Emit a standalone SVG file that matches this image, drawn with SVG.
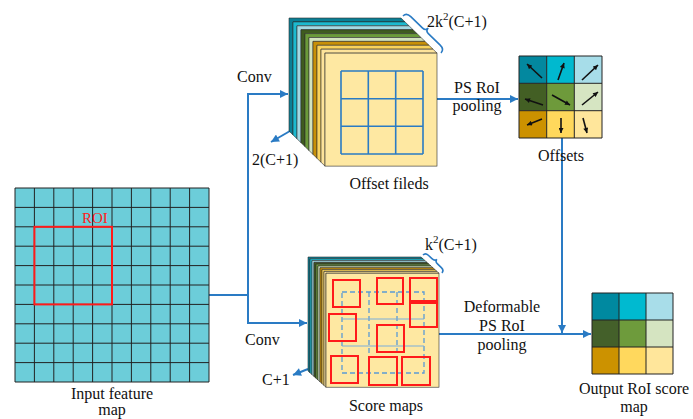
<svg xmlns="http://www.w3.org/2000/svg" xmlns:xlink="http://www.w3.org/1999/xlink" width="693" height="419" viewBox="0 0 693 419">
<style>
text{font-family:"Liberation Serif","DejaVu Serif","Noto Serif",serif;font-size:16px;fill:#111}
.conn{fill:none;stroke:#2a7bc4;stroke-width:2}
.lay{stroke:#2b2b2b;stroke-width:0.6}
.cell{stroke:#222;stroke-width:1}
.roi{fill:none;stroke:#ff1a1a;stroke-width:2}
.ar{stroke:#111;stroke-width:1.6;fill:none}
</style>
<defs>
<marker id="ah" viewBox="0 0 10 10" refX="10" refY="5" markerUnits="userSpaceOnUse" markerWidth="9" markerHeight="8" orient="auto"><path d="M0,0 L10,5 L0,10 z" fill="#2a7bc4"/></marker>
<marker id="ahk" viewBox="0 0 10 10" refX="10" refY="5" markerUnits="userSpaceOnUse" markerWidth="6" markerHeight="5" orient="auto"><path d="M0,0 L10,5 L0,10 z" fill="#111"/></marker>
<path id="LO" d="M0,0 h112 l4,3.9 h-112 v113 l-4,-3.9 z"/>
<path id="LS" d="M0,0 h113 l2,1.8 h-113 v114 l-2,-1.8 z"/>
</defs>

<g id="connectors">
<path class="conn" d="M209,295 H248"/>
<path class="conn" d="M248,323 V94 H288" marker-end="url(#ah)"/>
<path class="conn" d="M248,300 V323 H307" marker-end="url(#ah)"/>
<path class="conn" d="M437,99 H518" marker-end="url(#ah)"/>
<path class="conn" d="M562,138 V333" marker-end="url(#ah)"/>
<path class="conn" d="M439,334 H591" marker-end="url(#ah)"/>
<path class="conn" d="M290,131 L271,142" marker-end="url(#ah)"/>
<path class="conn" d="M308,369 L293,375" marker-end="url(#ah)"/>
</g>

<g id="input-feature-map">
<rect x="15" y="188" width="194" height="194" fill="#6ccdd9"/>
<path class="cell" d="M15,188V382M34.4,188V382M53.8,188V382M73.2,188V382M92.6,188V382M112,188V382M131.4,188V382M150.8,188V382M170.2,188V382M189.6,188V382M209,188V382M15,188H209M15,207.4H209M15,226.8H209M15,246.2H209M15,265.6H209M15,285H209M15,304.4H209M15,323.8H209M15,343.2H209M15,362.6H209M15,382H209"/>
<rect class="roi" x="34.4" y="226.8" width="77.6" height="77.6"/>
<text x="82" y="223" style="fill:#ff1a1a;font-size:15px">ROI</text>
<text x="112" y="399" text-anchor="middle">Input feature</text>
<text x="112" y="415" text-anchor="middle">map</text>
</g>

<g id="conv-labels">
<text x="237" y="82">Conv</text>
<text x="245" y="345">Conv</text>
<text x="252" y="165">2(C+1)</text>
<text x="262" y="385">C+1</text>
</g>

<g id="offset-fields">
<use href="#LO" x="289" y="18" class="lay" fill="#0a7f95"/>
<use href="#LO" x="293" y="21.9" class="lay" fill="#1bbad0"/>
<use href="#LO" x="297" y="25.8" class="lay" fill="#a3d9e4"/>
<use href="#LO" x="301" y="29.7" class="lay" fill="#3f5b1f"/>
<use href="#LO" x="305" y="33.6" class="lay" fill="#6b9a3a"/>
<use href="#LO" x="309" y="37.5" class="lay" fill="#d3e3bd"/>
<use href="#LO" x="313" y="41.4" class="lay" fill="#c89008"/>
<use href="#LO" x="317" y="45.3" class="lay" fill="#f9d35c"/>
<use href="#LO" x="321" y="49.2" class="lay" fill="#fde39a"/>
<rect x="325" y="53.1" width="112" height="113" fill="#fee8a2" stroke="#2b2b2b" stroke-width="0.6"/>
<path d="M341,71V154M368.3,71V154M395.7,71V154M423,71V154M341,71H423M341,98.7H423M341,126.3H423M341,154H423" fill="none" stroke="#2a7bc4" stroke-width="1.6"/>
<path transform="translate(403,16) rotate(44.2)" d="M0,0 C0,-4 2,-5 6,-5 L22.5,-5 C25,-5 26.5,-6.5 26.5,-9 C26.5,-6.5 28,-5 30.5,-5 L47,-5 C51,-5 53,-4 53,0" fill="none" stroke="#2a7bc4" stroke-width="1.6"/>
<text x="427" y="27">2k<tspan dy="-7" style="font-size:11px">2</tspan><tspan dy="7">(C+1)</tspan></text>
<text x="389" y="189" text-anchor="middle">Offset fileds</text>
</g>

<g id="ps-roi-pooling-label">
<text x="477" y="93" text-anchor="middle">PS RoI</text>
<text x="477" y="111" text-anchor="middle">pooling</text>
</g>

<g id="offsets">
<rect x="519" y="56" width="27.7" height="27.3" fill="#03889f"/>
<rect x="546.7" y="56" width="27.7" height="27.3" fill="#00b9cf"/>
<rect x="574.3" y="56" width="27.7" height="27.3" fill="#a7dde9"/>
<rect x="519" y="83.3" width="27.7" height="27.3" fill="#435f24"/>
<rect x="546.7" y="83.3" width="27.7" height="27.3" fill="#6e9a3b"/>
<rect x="574.3" y="83.3" width="27.7" height="27.3" fill="#d6e5c2"/>
<rect x="519" y="110.7" width="27.7" height="27.3" fill="#cc9100"/>
<rect x="546.7" y="110.7" width="27.7" height="27.3" fill="#ffd85c"/>
<rect x="574.3" y="110.7" width="27.7" height="27.3" fill="#ffe69b"/>
<path class="cell" d="M519,56H602V138H519Z M546.7,56V138 M574.3,56V138 M519,83.3H602 M519,110.7H602" fill="none" stroke-width="1.4"/>
<path class="ar" marker-end="url(#ahk)" d="M542,78 L527,64"/>
<path class="ar" marker-end="url(#ahk)" d="M558,80 L564,63"/>
<path class="ar" marker-end="url(#ahk)" d="M582,80 L598,65"/>
<path class="ar" marker-end="url(#ahk)" d="M543,105 L525,99"/>
<path class="ar" marker-end="url(#ahk)" d="M552,95 L570,105"/>
<path class="ar" marker-end="url(#ahk)" d="M582,105 L598,92"/>
<path class="ar" marker-end="url(#ahk)" d="M542,119 L527,125"/>
<path class="ar" marker-end="url(#ahk)" d="M561,118 L561,133"/>
<path class="ar" marker-end="url(#ahk)" d="M583,118 L587,133"/>
<text x="561" y="161" text-anchor="middle">Offsets</text>
</g>

<g id="score-maps">
<use href="#LS" x="308" y="257" class="lay" fill="#0a7f95"/>
<use href="#LS" x="310" y="258.8" class="lay" fill="#1bbad0"/>
<use href="#LS" x="312" y="260.6" class="lay" fill="#a3d9e4"/>
<use href="#LS" x="314" y="262.4" class="lay" fill="#3f5b1f"/>
<use href="#LS" x="316" y="264.2" class="lay" fill="#6b9a3a"/>
<use href="#LS" x="318" y="266" class="lay" fill="#d3e3bd"/>
<use href="#LS" x="320" y="267.8" class="lay" fill="#c89008"/>
<use href="#LS" x="322" y="269.6" class="lay" fill="#f9d35c"/>
<use href="#LS" x="324" y="271.4" class="lay" fill="#fde39a"/>
<rect x="326" y="273.2" width="113" height="114" fill="#fee8a2" stroke="#2b2b2b" stroke-width="0.6"/>
<rect x="342" y="292" width="82" height="81" fill="none" stroke="#5b9bd5" stroke-width="1.3" stroke-dasharray="5,3"/>
<path d="M369,292V373M397,292V373" fill="none" stroke="#5b9bd5" stroke-width="1.3" stroke-dasharray="5,3"/>
<path d="M342,319H424M342,346H424" fill="none" stroke="#7aaedb" stroke-width="1.2"/>
<rect class="roi" x="333" y="280" width="27" height="27"/>
<rect class="roi" x="377" y="278" width="26" height="26"/>
<rect class="roi" x="410" y="278" width="27" height="25"/>
<rect class="roi" x="410" y="301" width="27" height="26"/>
<rect class="roi" x="329" y="314" width="27" height="27"/>
<rect class="roi" x="377" y="325" width="27" height="27"/>
<rect class="roi" x="331" y="356" width="27" height="27"/>
<rect class="roi" x="369" y="357" width="28" height="28"/>
<rect class="roi" x="402" y="357" width="28" height="28"/>
<path transform="translate(423,255) rotate(43.5)" d="M0,0 C0,-3 1.5,-3.5 4,-3.5 L9,-3.5 C11,-3.5 13,-4.5 13,-6.5 C13,-4.5 15,-3.5 17,-3.5 L22,-3.5 C24.5,-3.5 26,-3 26,0" fill="none" stroke="#2a7bc4" stroke-width="1.6"/>
<text x="425" y="250">k<tspan dy="-7" style="font-size:11px">2</tspan><tspan dy="7">(C+1)</tspan></text>
<text x="386" y="411" text-anchor="middle">Score maps</text>
</g>

<g id="deformable-label">
<text x="502" y="312" text-anchor="middle">Deformable</text>
<text x="502" y="331" text-anchor="middle">PS RoI</text>
<text x="502" y="350" text-anchor="middle">pooling</text>
</g>

<g id="output-score-map">
<rect x="592" y="293" width="27" height="27" fill="#0089a0"/>
<rect x="619" y="293" width="27" height="27" fill="#00bad0"/>
<rect x="646" y="293" width="27" height="27" fill="#a8dde9"/>
<rect x="592" y="320" width="27" height="27" fill="#44602a"/>
<rect x="619" y="320" width="27" height="27" fill="#6e9b3c"/>
<rect x="646" y="320" width="27" height="27" fill="#d5e4c1"/>
<rect x="592" y="347" width="27" height="27" fill="#cc9200"/>
<rect x="619" y="347" width="27" height="27" fill="#ffd85d"/>
<rect x="646" y="347" width="27" height="27" fill="#ffe69b"/>
<path class="cell" d="M592,293H673V374H592Z M619,293V374 M646,293V374 M592,320H673 M592,347H673" fill="none" stroke-width="1.2"/>
<text x="634" y="394" text-anchor="middle">Output RoI score</text>
<text x="634" y="412" text-anchor="middle">map</text>
</g>
</svg>
